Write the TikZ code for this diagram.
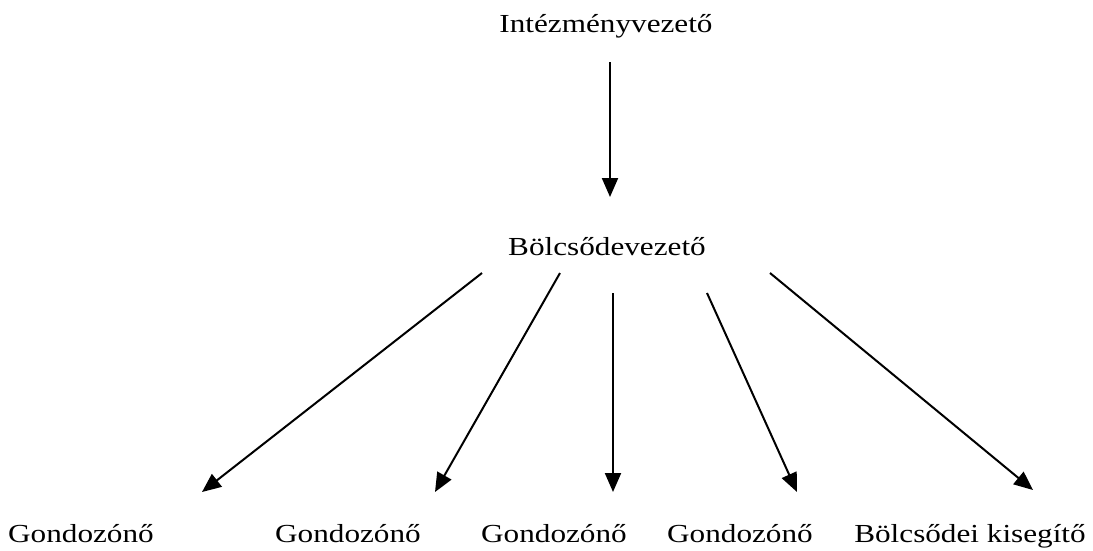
\documentclass[tikz,border=0pt]{standalone}
\usepackage{fontspec}
\setmainfont{Liberation Serif}
\usetikzlibrary{arrows.meta}
\newcommand{\widetext}[1]{\scalebox{1.2}[1]{#1}}
\begin{document}
\begin{tikzpicture}[x=1pt,y=-1pt,
  lbl/.style={anchor=base,inner sep=0pt,font=\fontsize{26}{30}\selectfont},
  conn/.style={line width=2pt,-{Triangle[length=19pt,width=16pt]}}]
\useasboundingbox (0,0) rectangle (1093,550);
\node[lbl] (top) at (606,32) {\widetext{Intézményvezető}};
\node[lbl] (mid) at (607,255) {\widetext{Bölcsődevezető}};
\node[lbl] (g1) at (81,542) {\widetext{Gondozónő}};
\node[lbl] (g2) at (348,542) {\widetext{Gondozónő}};
\node[lbl] (g3) at (554,542) {\widetext{Gondozónő}};
\node[lbl] (g4) at (740,542) {\widetext{Gondozónő}};
\node[lbl] (k) at (970,542) {\widetext{Bölcsődei kisegítő}};
\coordinate (s0) at (610,62);  \coordinate (e0) at (610,197);
\coordinate (s1) at (482,273); \coordinate (e1) at (202,492);
\coordinate (s2) at (560,273); \coordinate (e2) at (435,492);
\coordinate (s3) at (613,293); \coordinate (e3) at (613,492);
\coordinate (s4) at (707,293); \coordinate (e4) at (797,492);
\coordinate (s5) at (770,273); \coordinate (e5) at (1033,490);
\draw[conn] (s0) -- (e0);
\draw[conn] (s1) -- (e1);
\draw[conn] (s2) -- (e2);
\draw[conn] (s3) -- (e3);
\draw[conn] (s4) -- (e4);
\draw[conn] (s5) -- (e5);
\end{tikzpicture}
\end{document}
